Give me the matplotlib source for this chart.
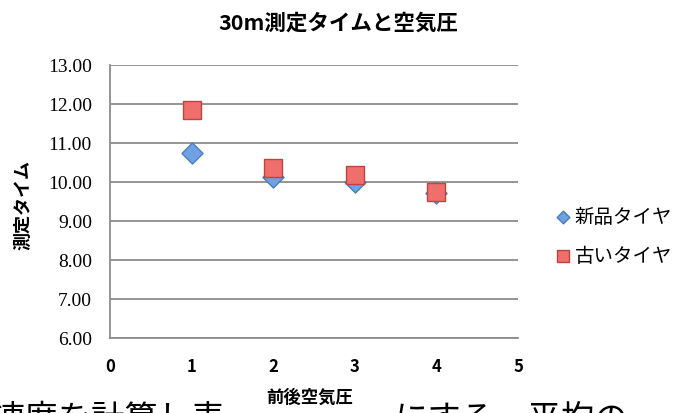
import matplotlib
matplotlib.use("Agg")
import matplotlib.pyplot as plt

plt.rcParams['font.family'] = ['Noto Sans CJK JP', 'DejaVu Sans']

# data
pressure = [1, 2, 3, 4]
new_tire = [10.75, 10.12, 10.0, 9.72]
old_tire = [11.85, 10.35, 10.17, 9.75]
series_names = ["新品タイヤ", "古いタイヤ"]
title = "30m測定タイムと空気圧"
xlabel = "前後空気圧"
ylabel = "測定タイム"
doc_left = "速度を計算し表"
doc_right = "にする。平均の"

fig = plt.figure(figsize=(6.87, 4.14), dpi=100)
ax = fig.add_axes([110/687, 1 - 339/414, 408/687, 273/414])

ax.scatter(pressure, new_tire, marker='D', s=115, color='#6fa2e2',
           edgecolor='#4a7ebb', linewidth=1.0, zorder=3, label=series_names[0])
ax.scatter(pressure, old_tire, marker='s', s=180, color='#ee6f6b',
           edgecolor='#b94643', linewidth=1.0, zorder=4, label=series_names[1])

ax.set_xlim(0, 5)
ax.set_ylim(6, 13)
ax.set_yticks(range(6, 14))
ax.set_yticklabels(["%.2f" % v for v in range(6, 14)],
                   fontfamily='Liberation Serif', fontsize=14)
ax.set_xticks(range(0, 6))
ax.set_xticklabels([str(v) for v in range(0, 6)], fontsize=12, fontweight='bold')
ax.tick_params(axis='x', length=0, pad=14)
ax.tick_params(axis='y', length=0, pad=13)
ax.grid(axis='y', color='#8c8c8c', linewidth=1.3)
ax.set_axisbelow(True)
for side in ['top', 'right']:
    ax.spines[side].set_visible(False)
for side in ['left', 'bottom']:
    ax.spines[side].set_color('#8c8c8c')
    ax.spines[side].set_linewidth(1.3)

fig.text(338/687, 1 - 23/414, title, ha='center', va='center',
         fontsize=15.5, fontweight='bold')
fig.text(23/687, 1 - 205/414, ylabel, ha='center', va='center',
         rotation=90, fontsize=13, fontweight='bold')

# document text showing behind the chart, cut off at the bottom edge
fig.text(-8/687, 1 - 429/414, doc_left, ha='left', va='baseline',
         fontsize=24, color='black')
fig.text(395/687, 1 - 429/414, doc_right, ha='left', va='baseline',
         fontsize=24, color='black')
fig.text(310/687, 1 - 398/414, xlabel, ha='center', va='center',
         fontsize=12.5, fontweight='bold',
         bbox=dict(facecolor='white', edgecolor='none', pad=4))

ax.legend(loc='center left', bbox_to_anchor=(555/687, 1 - 237/414),
          bbox_transform=fig.transFigure, frameon=False, fontsize=14,
          handlelength=0.8, handletextpad=0.2, labelspacing=0.95,
          markerscale=0.6, borderaxespad=0, borderpad=0)

fig.savefig("out.png", dpi=100)
